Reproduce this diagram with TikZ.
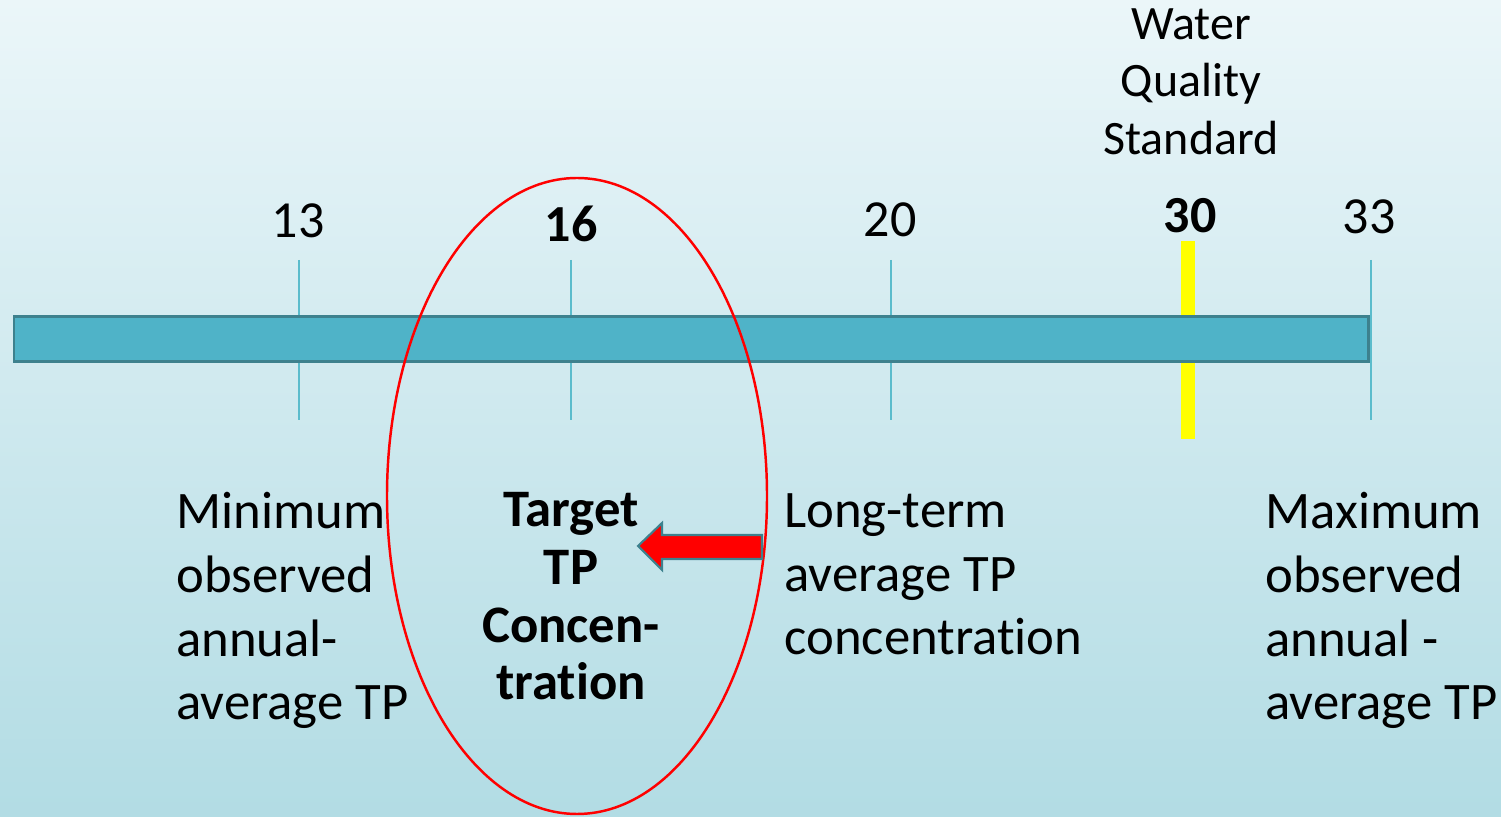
\documentclass[tikz,border=0pt]{standalone}
\usepackage{fontspec}
\setmainfont{Carlito}[Ligatures={NoCommon}]
\usepackage{xcolor}
\usepackage{tikz}
\usetikzlibrary{calc}
\definecolor{bgtop}{HTML}{EBF6F9}
\definecolor{bgbot}{HTML}{B2DCE4}
\definecolor{barfill}{HTML}{4FB3C8}
\definecolor{baredge}{HTML}{3D818E}
\definecolor{tickc}{HTML}{5BBCCC}
\definecolor{wqsyel}{HTML}{FFFF00}
\definecolor{ringred}{HTML}{FF0000}
\tikzset{
  axisbar/.style={fill=barfill, draw=baredge, line width=1.7pt},
  tickln/.style={draw=tickc, line width=1.1pt},
  wqsln/.style={fill=wqsyel, draw=none},
  ring/.style={draw=ringred, line width=1.4pt},
  blockarrow/.style={fill=ringred, draw=baredge, line width=1.2pt, line join=miter},
  num/.style={font=\fontsize{29.6}{34}\selectfont, anchor=base, inner sep=0pt},
  numb/.style={num, font=\fontsize{29.6}{34}\selectfont\bfseries},
  lab/.style={font=\fontsize{30}{36.4}\selectfont, align=left, anchor=base west, inner sep=0pt},
  labb/.style={font=\fontsize{30}{33}\selectfont\bfseries, align=center, anchor=base, inner sep=0pt},
  labs/.style={font=\fontsize{27.3}{33}\selectfont, align=center, anchor=base, inner sep=0pt},
}

\begin{document}
\begin{tikzpicture}
  \useasboundingbox (0,0) rectangle (30.02,16.34);
  \shade[top color=bgtop, bottom color=bgbot] (0,0) rectangle (30.02,16.34);

  % ticks and standard line, behind the bar
  \foreach \v/\x in {13/5.98,16/11.42,20/17.82,33/27.42} {
    \coordinate (t\v a) at (\x,11.14);
    \coordinate (t\v b) at (\x,7.94);
    \draw[tickln] (t\v a) -- (t\v b);
  }
  \fill[wqsln] (23.62,7.56) rectangle (23.90,11.52);

  \draw[axisbar] (0.28,9.1) rectangle (27.36,10.0);

  % values
  \node[num]  (n13) at (5.96,11.58) {13};
  \node[numb] (n16) at (11.42,11.50) {16};
  \node[num]  (n20) at (17.80,11.60) {20};
  \node[numb] (n30) at (23.80,11.68) {30};
  \node[num]  (n33) at (27.38,11.66) {33};
  \node[labs] (wqs) at (23.82,13.24) {Water\\Quality\\Standard};

  % captions (anchored on the last line)
  \node[lab]  (tmin) at (3.52,1.94) {Minimum\\observed\\annual-\\average TP};
  \node[labb] (ttar) at (11.42,2.34) {Target\\TP\\Concen-\\tration};
  \node[lab]  (tavg) at (15.68,3.24) {Long-term\\average TP\\concentration};
  \node[lab]  (tmax) at (25.30,1.94) {Maximum\\observed\\annual -\\average TP};

  \coordinate (ec) at (11.54,6.42);
  \draw[ring] (ec) ellipse [x radius=3.8, y radius=6.36];

  \coordinate (tip) at (12.76,5.42);
  \draw[blockarrow] (tip) -- (13.24,5.88) -- (13.24,5.64) -- (15.24,5.64)
    -- (15.24,5.16) -- (13.24,5.16) -- (13.24,4.94) -- cycle;
\end{tikzpicture}
\end{document}
